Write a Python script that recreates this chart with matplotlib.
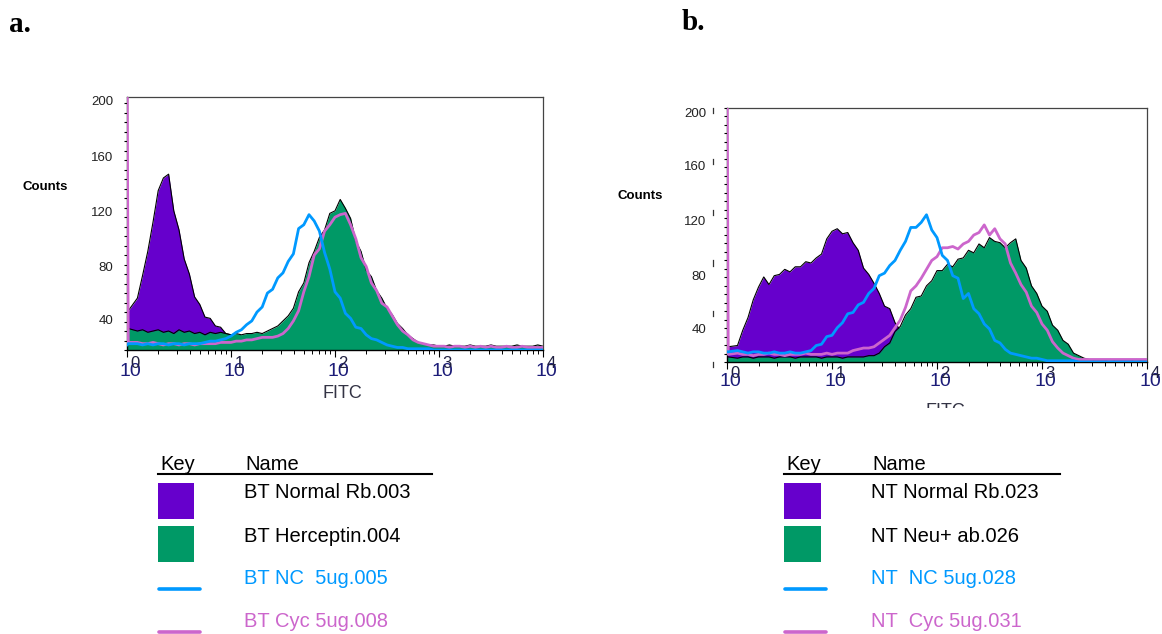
import numpy as np
import matplotlib
matplotlib.use("Agg")
import matplotlib.pyplot as plt
from matplotlib.patches import Rectangle
from matplotlib.lines import Line2D
from matplotlib.ticker import LogLocator, NullFormatter
from matplotlib.transforms import Bbox, TransformedBbox

plt.rcParams["font.family"] = ["Liberation Sans", "DejaVu Sans"]

W, H = 1162, 634

# FITC histograms: counts per channel, channels every 0.05 decade from 10^0 to 10^4
# (channel 0 holds the offscale events piled up at the left edge)
bt_normal = [
    27, 31, 41, 59, 78, 101, 126, 136, 139, 110,
    95, 72, 60, 42, 36, 26, 25, 19, 18, 13,
    12, 0, 0, 0, 0, 0, 0, 0, 0, 0,
    0, 0, 0, 0, 0, 0, 0, 0, 0, 0,
    0, 0, 0, 0, 0, 0, 0, 0, 0, 0,
    0, 0, 0, 0, 0, 0, 0, 0, 0, 0,
    0, 0, 0, 0, 0, 0, 0, 0, 0, 0,
    0, 0, 0, 0, 0, 0, 0, 0, 0, 0,
    0,
]
bt_herceptin = [
    25, 17, 15, 16, 14, 15, 16, 14, 15, 13,
    16, 14, 15, 13, 14, 12, 14, 13, 14, 13,
    12, 13, 12, 13, 13, 14, 13, 15, 17, 19,
    23, 27, 33, 46, 53, 69, 78, 89, 95, 108,
    110, 119, 112, 104, 86, 78, 63, 58, 47, 41,
    33, 28, 21, 17, 12, 9, 6, 5, 4, 4,
    3, 3, 4, 3, 3, 3, 4, 3, 3, 3,
    4, 3, 3, 3, 3, 4, 3, 3, 3, 4,
    3,
]
bt_nc = [
    4, 5, 5, 4, 5, 4, 5, 5, 4, 5,
    5, 4, 5, 5, 5, 6, 7, 7, 8, 9,
    11, 14, 16, 20, 23, 30, 34, 45, 48, 57,
    61, 70, 76, 96, 99, 107, 102, 94, 77, 64,
    46, 41, 29, 25, 18, 17, 12, 9, 8, 6,
    4, 3, 2, 2, 1, 1, 1, 1, 1, 0,
    0, 0, 0, 0, 0, 0, 0, 0, 0, 0,
    0, 0, 0, 0, 0, 0, 0, 0, 0, 0,
    0,
]
bt_cyc = [
    250, 6, 6, 5, 5, 6, 5, 4, 5, 5,
    4, 5, 5, 4, 5, 5, 5, 5, 6, 6,
    6, 7, 7, 8, 8, 9, 10, 10, 10, 11,
    13, 17, 23, 31, 46, 58, 75, 80, 94, 99,
    105, 107, 108, 99, 88, 73, 66, 53, 47, 37,
    34, 27, 20, 15, 12, 8, 6, 5, 4, 3,
    3, 3, 2, 3, 3, 2, 3, 2, 3, 2,
    3, 2, 2, 3, 2, 2, 3, 2, 2, 2,
    2,
]

nt_normal = [
    13, 12, 13, 25, 35, 49, 59, 67, 61, 68,
    69, 73, 71, 75, 75, 79, 78, 82, 85, 97,
    103, 105, 101, 102, 94, 88, 74, 69, 62, 54,
    44, 42, 31, 25, 17, 13, 8, 5, 3, 2,
    1, 0, 0, 0, 0, 0, 0, 0, 0, 0,
    0, 0, 0, 0, 0, 0, 0, 0, 0, 0,
    0, 0, 0, 0, 0, 0, 0, 0, 0, 0,
    0, 0, 0, 0, 0, 0, 0, 0, 0, 0,
    0,
]
nt_neu = [
    4, 4, 3, 4, 4, 3, 4, 4, 4, 3,
    4, 4, 4, 3, 4, 4, 4, 4, 3, 4,
    4, 4, 3, 4, 4, 4, 4, 5, 5, 7,
    12, 15, 24, 28, 37, 42, 51, 52, 60, 64,
    72, 72, 77, 75, 81, 82, 88, 86, 93, 90,
    98, 95, 94, 90, 94, 97, 80, 74, 60, 54,
    44, 40, 29, 25, 17, 14, 7, 5, 3, 2,
    1, 1, 1, 2, 1, 1, 1, 1, 2, 1,
    1,
]
nt_nc = [
    8, 8, 9, 8, 7, 8, 8, 7, 7, 8,
    7, 7, 8, 7, 7, 8, 9, 13, 14, 20,
    21, 27, 31, 38, 39, 45, 47, 54, 58, 68,
    70, 76, 80, 88, 95, 106, 106, 110, 116, 104,
    98, 84, 80, 68, 66, 50, 54, 42, 38, 30,
    26, 17, 15, 10, 7, 6, 5, 4, 3, 3,
    2, 1, 1, 1, 1, 1, 1, 0, 0, 0,
    0, 0, 0, 0, 0, 0, 0, 0, 0, 0,
    0,
]
nt_cyc = [
    250, 6, 7, 6, 6, 5, 6, 6, 7, 6,
    6, 5, 6, 6, 6, 7, 6, 6, 6, 7,
    6, 7, 7, 7, 9, 10, 11, 11, 12, 15,
    18, 21, 27, 33, 43, 56, 60, 66, 73, 80,
    83, 90, 90, 91, 89, 93, 95, 100, 102, 108,
    100, 105, 97, 93, 78, 70, 61, 55, 44, 39,
    30, 25, 16, 11, 7, 5, 3, 2, 2, 2,
    2, 2, 2, 2, 2, 2, 2, 2, 2, 2,
    2,
]

names_a = ["BT Normal Rb.003", "BT Herceptin.004", "BT NC  5ug.005", "BT Cyc 5ug.008"]
names_b = ["NT Normal Rb.023", "NT Neu+ ab.026", "NT  NC 5ug.028", "NT  Cyc 5ug.031"]
count_labels = [40, 80, 120, 160, 200]
decades = [0, 1, 2, 3, 4]

PURPLE = "#6600cc"
GREEN = "#009966"
BLUE = "#0099ff"
PINK = "#cc66cc"
NAVY = "#1c1c78"

# channel positions on the log axis; channel 0 sits right on 10^0
log_pos = np.concatenate([[0.0, 0.012], np.arange(2, 81) * 0.05])
chan_x = 10 ** log_pos

fig = plt.figure(figsize=(W / 100, H / 100), dpi=100)


def fx(x):
    return x / W


def fy(y):
    return 1 - y / H


def ftext(x, y, s, **kw):
    return fig.text(fx(x), fy(y), s, **kw)


def add_axes_px(left, top, right, bottom):
    return fig.add_axes([fx(left), fy(bottom), (right - left) / W, (bottom - top) / H])


def draw_panel(ax, normal, stained, nc, cyc, tick_step):
    ax.fill_between(chan_x, 0, normal, color=PURPLE, linewidth=0, zorder=1)
    ax.plot(chan_x, normal, color="black", linewidth=0.8, zorder=1.5)
    ax.fill_between(chan_x, 0, stained, color=GREEN, linewidth=0, zorder=2)
    ax.plot(chan_x, stained, color="black", linewidth=0.8, zorder=2.5)
    ax.plot(chan_x, cyc, color=PINK, linewidth=2.0, zorder=3)
    ax.plot(chan_x, nc, color=BLUE, linewidth=2.0, zorder=4)

    ax.set_xscale("log")
    ax.set_xlim(1, 1e4)
    ax.set_ylim(0, 200)
    ax.xaxis.set_major_locator(LogLocator(base=10, numticks=10))
    ax.xaxis.set_minor_locator(LogLocator(base=10, subs=np.arange(2, 10), numticks=10))
    ax.xaxis.set_major_formatter(NullFormatter())
    ax.xaxis.set_minor_formatter(NullFormatter())
    ax.tick_params(axis="x", which="major", direction="out", length=5, width=0.8)
    ax.tick_params(axis="x", which="minor", direction="out", length=3, width=0.7)
    ax.set_yticks(np.arange(0, 201, tick_step))
    ax.tick_params(axis="y", direction="out", length=2.5, width=0.8, labelleft=False)
    for side in ["left", "bottom"]:
        ax.spines[side].set_linewidth(1.0)
    for side in ["top", "right"]:
        ax.spines[side].set_linewidth(0.9)
        ax.spines[side].set_color("#444444")


def decade_labels(ax, dy_ten, dy_exp):
    for d in decades:
        ax.annotate("10", xy=(10 ** d, 0), xycoords=("data", "axes fraction"),
                    xytext=(3, dy_ten), textcoords="offset pixels",
                    ha="center", va="center", fontsize=14, color=NAVY,
                    annotation_clip=False)
        ax.annotate(str(d), xy=(10 ** d, 0), xycoords=("data", "axes fraction"),
                    xytext=(8, dy_exp), textcoords="offset pixels",
                    ha="center", va="center", fontsize=12, color="#202040",
                    annotation_clip=False)


def count_axis_labels(x_right, label_rows):
    for value, y in zip(count_labels, label_rows):
        ftext(x_right, y, str(value), ha="right", va="center", fontsize=9.5,
              color="#222222")


def draw_key(key_x, name_x, rule_right, names, sq_w, line_len):
    ftext(key_x + 2, 470, "Key", ha="left", va="baseline", fontsize=14.5)
    ftext(name_x + 1, 470, "Name", ha="left", va="baseline", fontsize=14.5)
    fig.add_artist(Line2D([fx(key_x), fx(rule_right)], [fy(474), fy(474)],
                          color="black", linewidth=1.5))
    fig.add_artist(Rectangle((fx(key_x), fy(519)), sq_w / W, 36 / H,
                             facecolor=PURPLE, edgecolor="none"))
    fig.add_artist(Rectangle((fx(key_x), fy(562)), sq_w / W, 36 / H,
                             facecolor=GREEN, edgecolor="none"))
    fig.add_artist(Line2D([fx(key_x + 1), fx(key_x + line_len)], [fy(589), fy(589)],
                          color=BLUE, linewidth=2.6, solid_capstyle="round"))
    fig.add_artist(Line2D([fx(key_x + 1), fx(key_x + line_len)], [fy(632), fy(632)],
                          color=PINK, linewidth=2.6, solid_capstyle="round"))
    colors = ["black", "black", BLUE, PINK]
    for name, c, y in zip(names, colors, [498, 542, 584, 627]):
        ftext(name_x, y, name, ha="left", va="baseline", fontsize=14.5, color=c)


# panel a
ax_a = add_axes_px(127, 97, 543, 350)
draw_panel(ax_a, bt_normal, bt_herceptin, bt_nc, bt_cyc, 7.5)
decade_labels(ax_a, -22, -14)
count_axis_labels(113, [321, 268, 213, 158, 102])
ftext(45, 187, "Counts", ha="center", va="center", fontsize=9.5, fontweight="bold")
ftext(342, 393, "FITC", ha="center", va="center", fontsize=13, color="#333344")

# panel b
ax_b = add_axes_px(727, 108, 1147, 362)
draw_panel(ax_b, nt_normal, nt_neu, nt_nc, nt_cyc, 6.67)
decade_labels(ax_b, -19, -11)
count_axis_labels(706, [330, 277, 222, 167, 114])
ftext(640, 196, "Counts", ha="center", va="center", fontsize=9.5, fontweight="bold")
fitc_b = ftext(945, 411, "FITC", ha="center", va="center", fontsize=13, color="#333344")
fitc_b.set_clip_box(TransformedBbox(Bbox.from_extents(fx(880), fy(408), fx(1010), fy(380)),
                                    fig.transFigure))
fitc_b.set_clip_on(True)

# stray tick marks left of panel b's count axis
for v in [0, 40, 80, 120, 160, 200]:
    ax_b.plot([-0.033, -0.033], [v - 4, v], transform=ax_b.get_yaxis_transform(),
              color="#333333", linewidth=0.9, clip_on=False)

# panel letters
ftext(9, 24, "a.", ha="left", va="center", fontsize=21, fontweight="bold",
      family=["Liberation Serif", "DejaVu Serif"])
ftext(682, 22, "b.", ha="left", va="center", fontsize=21, fontweight="bold",
      family=["Liberation Serif", "DejaVu Serif"])

# keys
draw_key(158, 244, 432, names_a, 36, 42)
draw_key(784, 871, 1060, names_b, 37, 42)

fig.savefig("out.png", dpi=100)
